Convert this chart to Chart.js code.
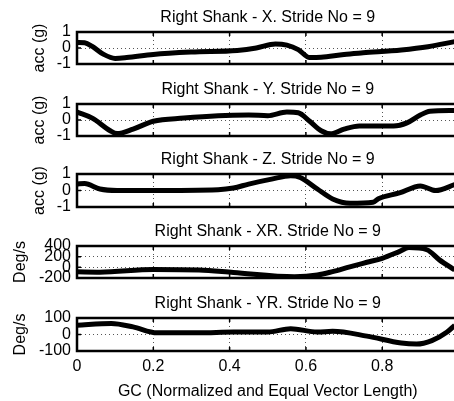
<!DOCTYPE html>
<html><head><meta charset="utf-8">
<script src="https://cdn.jsdelivr.net/npm/chart.js@4/dist/chart.umd.min.js"></script>
<style>
html,body{margin:0;padding:0;background:#fff;overflow:hidden;width:454px;height:401px;position:relative;}
canvas{position:absolute;left:0;}
</style></head><body>
<script>
// ---- data ----
const panelTitles = ['Right Shank - X. Stride No = 9','Right Shank - Y. Stride No = 9','Right Shank - Z. Stride No = 9','Right Shank - XR. Stride No = 9','Right Shank - YR. Stride No = 9'];
const yTitles = ['acc (g)','acc (g)','acc (g)','Deg/s','Deg/s'];
const xAxisTitle = 'GC (Normalized and Equal Vector Length)';
const yRanges = [[-1,1,1],[-1,1,1],[-1,1,1],[-200,400,200],[-100,100,100]];

const gcX = [0, 0.02, 0.04, 0.07, 0.1, 0.13, 0.2, 0.3, 0.42, 0.47, 0.52, 0.55, 0.58, 0.61, 0.64, 0.7, 0.75, 0.85, 0.92, 0.99];
const accX = [0.35, 0.33, 0.1, -0.4, -0.65, -0.6, -0.4, -0.25, -0.15, 0.0, 0.25, 0.18, -0.1, -0.6, -0.58, -0.4, -0.3, -0.12, 0.08, 0.4];

const gcY = [0, 0.04, 0.087, 0.105, 0.147, 0.2, 0.28, 0.37, 0.45, 0.5, 0.55, 0.58, 0.61, 0.64, 0.665, 0.7, 0.74, 0.83, 0.865, 0.9, 0.925, 0.99];
const accY = [0.5, 0.12, -0.67, -0.85, -0.57, -0.08, 0.12, 0.27, 0.31, 0.27, 0.5, 0.45, -0.08, -0.67, -0.86, -0.57, -0.37, -0.37, -0.18, 0.31, 0.55, 0.6];

const gcZ = [0, 0.02, 0.06, 0.105, 0.19, 0.37, 0.41, 0.45, 0.51, 0.56, 0.585, 0.63, 0.67, 0.716, 0.776, 0.79, 0.845, 0.9, 0.94, 0.99];
const accZ = [0.39, 0.42, 0.09, 0.0, 0.0, 0.05, 0.15, 0.39, 0.69, 0.89, 0.79, 0.09, -0.51, -0.77, -0.71, -0.5, -0.15, 0.28, 0.0, 0.35];

const gcXR = [0, 0.06, 0.2, 0.32, 0.41, 0.57, 0.63, 0.67, 0.715, 0.76, 0.8, 0.846, 0.87, 0.917, 0.95, 0.99];
const degXR = [-85, -90, -40, -50, -95, -175, -145, -80, 10, 95, 170, 300, 370, 330, 140, -50];

const gcYR = [0, 0.09, 0.147, 0.21, 0.32, 0.41, 0.5, 0.56, 0.63, 0.67, 0.76, 0.85, 0.89, 0.93, 0.97, 0.99];
const degYR = [56, 67, 46, 10, 10, 15, 15, 35, 15, 19, -10, -52, -58, -37, 15, 56];

const seriesX = [gcX, gcY, gcZ, gcXR, gcYR];
const seriesV = [accX, accY, accZ, degXR, degYR];

// ---- layout ----
const plotTops = [32, 104, 174, 246, 318];
const plotHeights = [32, 32, 33, 32, 33];
const FONT = '"Liberation Sans", Arial, Helvetica, sans-serif';
Chart.defaults.font.family = FONT;
Chart.defaults.font.size = 16;
Chart.defaults.color = '#000';

const framePlugin = {
  id: 'frame',
  afterDatasetsDraw(chart) {
    const {ctx, chartArea: a, scales} = chart;
    ctx.save();
    ctx.strokeStyle = '#000';
    ctx.lineWidth = 1.5;
    ctx.beginPath();
    scales.x.ticks.forEach(t => {
      const px = scales.x.getPixelForValue(t.value);
      ctx.moveTo(px, a.bottom); ctx.lineTo(px, a.bottom - 4);
      ctx.moveTo(px, a.top); ctx.lineTo(px, a.top + 4);
    });
    scales.y.ticks.forEach(t => {
      const py = scales.y.getPixelForValue(t.value);
      ctx.moveTo(a.left, py); ctx.lineTo(a.left + 4, py);
    });
    ctx.stroke();
    ctx.lineWidth = 2.5;
    ctx.strokeRect(a.left, a.top, a.right - a.left, a.bottom - a.top);
    ctx.restore();
  }
};

const TITLE_BLOCK = 25;
for (let i = 0; i < 5; i++) {
  const last = i === 4;
  const xAxisH = last ? 50 : 20;
  const w = last ? 469 : 465;
  const h = TITLE_BLOCK + plotHeights[i] + xAxisH;
  const c = document.createElement('canvas');
  c.width = w; c.height = h;
  c.style.top = (plotTops[i] - TITLE_BLOCK) + 'px';
  c.style.width = w + 'px'; c.style.height = h + 'px';
  document.body.appendChild(c);
  const pts = seriesX[i].map((x, k) => ({x, y: seriesV[i][k]}));
  const [ymin, ymax, ystep] = yRanges[i];
  const deg = i >= 3;
  new Chart(c, {
    type: 'line',
    data: { datasets: [{ data: pts, borderColor: '#000', borderWidth: 5, pointRadius: 0, fill: false, cubicInterpolationMode: 'monotone' }] },
    options: {
      responsive: false, animation: false, devicePixelRatio: 1,
      layout: { padding: { left: 0, right: 6.5, top: 0, bottom: 0 } },
      plugins: {
        legend: { display: false }, tooltip: { enabled: false },
        title: { display: true, text: panelTitles[i], fullSize: false, color: '#000',
          font: { size: 16, weight: 'normal', lineHeight: '18px' }, padding: { top: 1.5, bottom: 5.5 } }
      },
      scales: {
        x: {
          type: 'linear', min: 0, max: 1,
          border: { display: false, dash: [1, 3] },
          grid: { color: '#555', lineWidth: 1, drawTicks: false },
          ticks: { display: last, stepSize: 0.2, padding: 6, autoSkip: false, maxRotation: 0,
            callback: v => String(+v.toFixed(1)) },
          title: { display: last, text: xAxisTitle, font: { size: 16 }, padding: { top: 0, bottom: 0 } },
          afterFit: s => { s.height = xAxisH; }
        },
        y: {
          min: ymin, max: ymax,
          border: { display: false, dash: [1, 3] },
          grid: { color: '#555', lineWidth: 1, drawTicks: false },
          ticks: { stepSize: ystep, autoSkip: false, padding: 6 },
          title: { display: true, text: yTitles[i], font: { size: 16 }, padding: { top: deg ? 10.9 : 30.4, bottom: 0 } },
          afterFit: s => { s.width = 77; }
        }
      }
    },
    plugins: [framePlugin]
  });
}
</script>
</body></html>
